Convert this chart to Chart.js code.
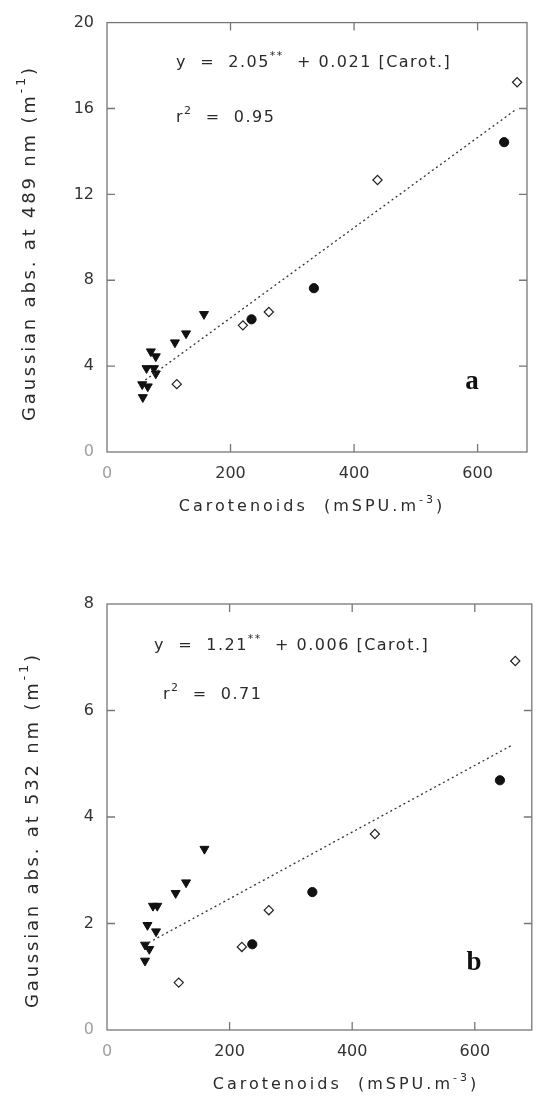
<!DOCTYPE html>
<html>
<head>
<meta charset="utf-8">
<script src="https://cdn.jsdelivr.net/npm/chart.js@4.4.1/dist/chart.umd.min.js"></script>
<style>
  html, body { margin: 0; padding: 0; background: #fff; }
  canvas { display: block; }
</style>
</head>
<body>
<canvas id="chartA" width="538" height="549"></canvas>
<canvas id="chartB" width="538" height="549"></canvas>
<script>
// Ticks communs
const xTicks = [0, 200, 400, 600];

// Panel a : 489 nm
const aYTicks = [0, 4, 8, 12, 16, 20];
const aTriX = [58, 57, 66, 64, 76, 79, 71, 79, 110, 128, 157];
const aTriY = [2.55, 3.15, 3.05, 3.9, 3.9, 3.65, 4.68, 4.45, 5.1, 5.52, 6.42];
const aDiaX = [113, 220, 262, 438, 664];
const aDiaY = [3.16, 5.9, 6.52, 12.67, 17.22];
const aDotX = [234, 335, 643];
const aDotY = [6.18, 7.63, 14.43];
const aFitX = [62, 662];
const aFitY = [3.35, 15.95];

// Panel b : 532 nm
const bYTicks = [0, 2, 4, 6, 8];
const bTriX = [62, 62, 69, 66, 80, 75, 82, 112, 129, 159];
const bTriY = [1.30, 1.60, 1.52, 1.97, 1.85, 2.33, 2.33, 2.57, 2.77, 3.40];
const bDiaX = [117, 220, 264, 437, 666];
const bDiaY = [0.89, 1.56, 2.25, 3.68, 6.93];
const bDotX = [237, 335, 641];
const bDotY = [1.61, 2.59, 4.69];
const bFitX = [68, 661];
const bFitY = [1.64, 5.35];

const zip = (xs, ys) => xs.map((x, i) => ({ x, y: ys[i] }));
const FONT = '"DejaVu Sans", sans-serif';

// texte avec exposants
function drawRich(ctx, parts, x, y, size, align) {
  const ws = parts.map(([s, sup]) => {
    ctx.font = `${sup ? Math.round(size * 0.7) : size}px ${FONT}`;
    return ctx.measureText(s).width;
  });
  const total = ws.reduce((a, b) => a + b, 0);
  let cx = align === 'center' ? x - total / 2 : x;
  parts.forEach(([s, sup], i) => {
    ctx.font = `${sup ? Math.round(size * 0.7) : size}px ${FONT}`;
    ctx.fillText(s, cx, sup ? y - size * 0.45 : y);
    cx += ws[i];
  });
}

const decor = {
  id: 'decor',
  beforeDatasetsDraw(chart, args, o) {
    const { ctx, chartArea: a, scales: { x, y } } = chart;
    ctx.save();
    ctx.strokeStyle = '#777';
    ctx.lineWidth = 1.3;
    ctx.strokeRect(a.left, a.top, a.right - a.left, a.bottom - a.top);
    ctx.beginPath();
    x.ticks.forEach(t => {
      const px = x.getPixelForValue(t.value);
      if (px <= a.left + 1 || px >= a.right - 1) return;
      ctx.moveTo(px, a.bottom); ctx.lineTo(px, a.bottom - 8);
      ctx.moveTo(px, a.top); ctx.lineTo(px, a.top + 8);
    });
    y.ticks.forEach(t => {
      const py = y.getPixelForValue(t.value);
      if (py <= a.top + 1 || py >= a.bottom - 1) return;
      ctx.moveTo(a.left, py); ctx.lineTo(a.left + 8, py);
      ctx.moveTo(a.right, py); ctx.lineTo(a.right - 8, py);
    });
    ctx.stroke();
    ctx.restore();
  },
  afterDraw(chart, args, o) {
    const ctx = chart.ctx;
    ctx.save();
    ctx.fillStyle = '#2a2a2a';
    ctx.textBaseline = 'middle';
    ctx.textAlign = 'left';
    ctx.letterSpacing = '1.5px';
    drawRich(ctx, o.eq, o.eqPos[0], o.eqPos[1], 16, 'left');
    drawRich(ctx, o.r2, o.r2Pos[0], o.r2Pos[1], 16, 'left');
    ctx.letterSpacing = '3px';
    drawRich(ctx, [['Carotenoids  (mSPU.m'], ['-3', true], [')']], o.xtPos[0], o.xtPos[1], 16, 'center');
    ctx.save();
    ctx.translate(o.ytPos[0], o.ytPos[1]);
    ctx.rotate(-Math.PI / 2);
    ctx.letterSpacing = '2.8px';
    drawRich(ctx, o.yTitle, 0, 0, 18, 'center');
    ctx.restore();
    ctx.letterSpacing = '0px';
    ctx.fillStyle = '#111';
    ctx.textAlign = 'center';
    ctx.font = 'bold 27px "Liberation Serif", serif';
    ctx.fillText(o.letter, o.letterPos[0], o.letterPos[1]);
    ctx.restore();
  }
};

function panel(id, p) {
  const tickFont = { family: FONT, size: 16 };
  const tickColor = c => (c.tick && c.tick.value === 0 ? '#a0a0a0' : '#333');
  new Chart(document.getElementById(id), {
    type: 'scatter',
    data: {
      datasets: [
        { type: 'line', data: zip(p.fitX, p.fitY), borderColor: '#333', borderWidth: 1.3,
          borderDash: [2, 3], pointRadius: 0, fill: false },
        { data: zip(p.triX, p.triY), pointStyle: 'triangle', pointRotation: 180, pointRadius: 5.2,
          pointBackgroundColor: '#111', pointBorderColor: '#111', pointBorderWidth: 1 },
        { data: zip(p.diaX, p.diaY), pointStyle: 'rectRot', pointRadius: 4.6,
          pointBackgroundColor: '#fff', pointBorderColor: '#222', pointBorderWidth: 1.2 },
        { data: zip(p.dotX, p.dotY), pointStyle: 'circle', pointRadius: 4.6,
          pointBackgroundColor: '#111', pointBorderColor: '#111', pointBorderWidth: 1 }
      ]
    },
    options: {
      responsive: false,
      animation: false,
      layout: { padding: { top: p.padTop, right: p.padRight, left: 0, bottom: 0 } },
      scales: {
        x: {
          type: 'linear', min: 0, max: p.xMax,
          afterBuildTicks: s => { s.ticks = xTicks.map(v => ({ value: v })); },
          afterFit: s => { s.height = p.xH; },
          grid: { display: false, drawTicks: false },
          border: { display: false },
          ticks: { autoSkip: false, padding: 12, font: tickFont, color: tickColor }
        },
        y: {
          type: 'linear', min: 0, max: p.yMax,
          afterBuildTicks: s => { s.ticks = p.yTicks.map(v => ({ value: v })); },
          afterFit: s => { s.width = 107; },
          grid: { display: false, drawTicks: false },
          border: { display: false },
          ticks: { autoSkip: false, padding: 13, font: tickFont, color: tickColor }
        }
      },
      plugins: {
        legend: { display: false },
        tooltip: { enabled: false },
        decor: p.decor
      }
    },
    plugins: [decor]
  });
}

panel('chartA', {
  triX: aTriX, triY: aTriY, diaX: aDiaX, diaY: aDiaY, dotX: aDotX, dotY: aDotY,
  fitX: aFitX, fitY: aFitY, yTicks: aYTicks, yMax: 20, xMax: 680,
  padTop: 17, padRight: 11, xH: 97,
  decor: {
    eq: [['y  =  2.05'], ['**', true], ['  + 0.021 [Carot.]']], eqPos: [176, 63],
    r2: [['r'], ['2', true], ['  =  0.95']], r2Pos: [176, 118],
    yTitle: [['Gaussian abs. at 489 nm (m'], ['-1', true], [')']], ytPos: [30, 243],
    xtPos: [312, 507], letter: 'a', letterPos: [472, 382]
  }
});

panel('chartB', {
  triX: bTriX, triY: bTriY, diaX: bDiaX, diaY: bDiaY, dotX: bDotX, dotY: bDotY,
  fitX: bFitX, fitY: bFitY, yTicks: bYTicks, yMax: 8, xMax: 693,
  padTop: 55, padRight: 1, xH: 68,
  decor: {
    eq: [['y  =  1.21'], ['**', true], ['  + 0.006 [Carot.]']], eqPos: [154, 97],
    r2: [['r'], ['2', true], ['  =  0.71']], r2Pos: [163, 146],
    yTitle: [['Gaussian abs. at 532 nm (m'], ['-1', true], [')']], ytPos: [33, 281],
    xtPos: [346, 536], letter: 'b', letterPos: [474, 414]
  }
});
</script>
</body>
</html>
